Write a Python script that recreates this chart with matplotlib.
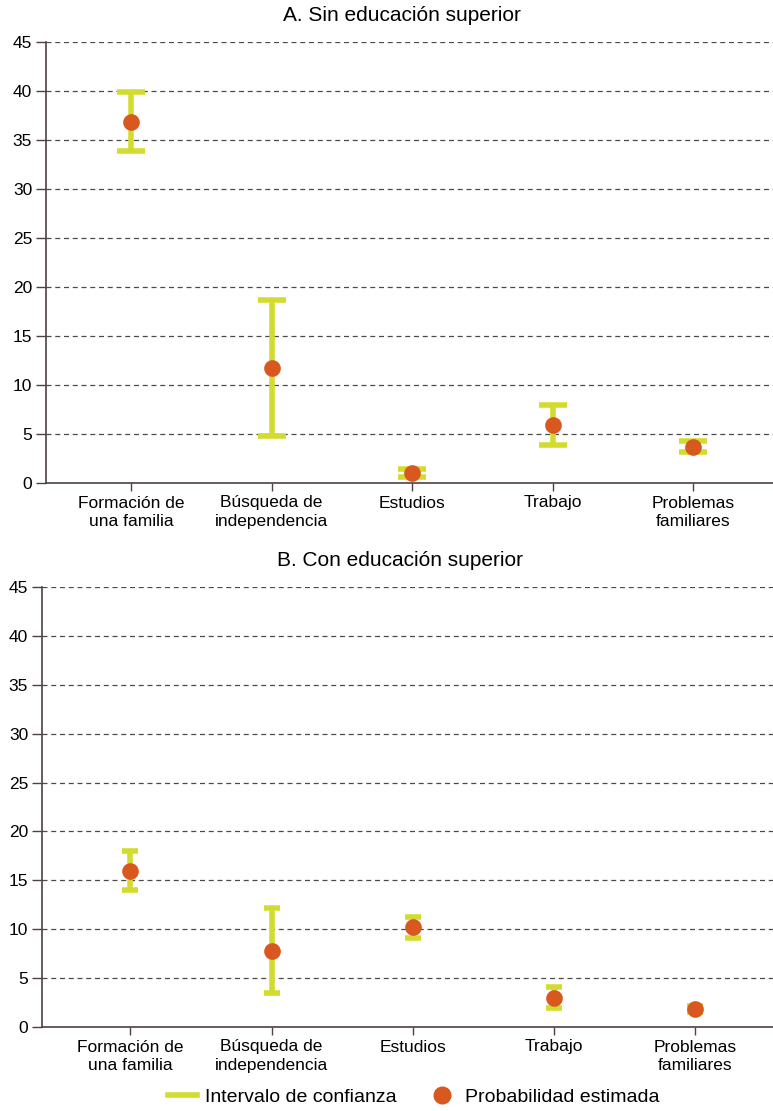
import matplotlib
matplotlib.use("Agg")
import matplotlib.pyplot as plt
from matplotlib.lines import Line2D

plt.rcParams['font.family'] = ['Liberation Sans', 'DejaVu Sans']

categories = ["Formación de\nuna familia", "Búsqueda de\nindependencia", "Estudios",
              "Trabajo", "Problemas\nfamiliares"]

# Panel A: Sin educación superior
a_est = [36.8, 11.7, 1.0, 5.9, 3.7]
a_low = [33.9, 4.8, 0.6, 3.9, 3.2]
a_high = [39.9, 18.7, 1.4, 8.0, 4.3]

# Panel B: Con educación superior
b_est = [16.0, 7.8, 10.2, 3.0, 1.8]
b_low = [14.0, 3.5, 9.1, 1.9, 1.5]
b_high = [18.0, 12.2, 11.2, 4.1, 2.1]

titles = ["A. Sin educación superior", "B. Con educación superior"]
yticks = [0, 5, 10, 15, 20, 25, 30, 35, 40, 45]

CI_COLOR = "#d3dc2e"
PT_COLOR = "#d9581f"
SPINE = "#4e4040"

fig = plt.figure(figsize=(7.73, 11.11), dpi=100)
ax_a = fig.add_axes([46/773, 1-483/1111, (773-46)/773, (483-42)/1111])
ax_b = fig.add_axes([42/773, 1-1027/1111, (773-42)/773, (1027-587)/1111])

panels = [(ax_a, a_est, a_low, a_high, 10, -0.605),
          (ax_b, b_est, b_low, b_high, 6, -0.625)]

for i, (ax, est, low, high, cap, xl) in enumerate(panels):
    x = list(range(len(categories)))
    yerr = [[e - l for e, l in zip(est, low)], [h - e for e, h in zip(est, high)]]
    ax.errorbar(x, est, yerr=yerr, fmt='none', ecolor=CI_COLOR, elinewidth=4,
                capsize=cap, capthick=4, zorder=3)
    ax.plot(x, est, 'o', color=PT_COLOR, markersize=12, markeredgewidth=0, zorder=4)
    ax.set_ylim(0, 45)
    ax.set_xlim(xl, xl + 727/140.5)
    ax.set_yticks(yticks)
    ax.set_xticks(x)
    ax.set_xticklabels(categories, fontsize=12.5, linespacing=1.3)
    ax.tick_params(axis='y', labelsize=12.5, length=7, color=SPINE, width=1, pad=3)
    ax.tick_params(axis='x', length=6, color=SPINE, width=1, pad=3)
    for y in yticks[1:]:
        ax.axhline(y, color="#4a4a4a", linestyle=(0, (4, 3)), linewidth=0.9, zorder=1)
    for s in ['top', 'right']:
        ax.spines[s].set_visible(False)
    for s in ['left', 'bottom']:
        ax.spines[s].set_color(SPINE)
        ax.spines[s].set_linewidth(1.2)
    ax.set_title(titles[i], fontsize=15, pad=15, x=0.49)

handles = [Line2D([0], [0], color=CI_COLOR, linewidth=4),
           Line2D([0], [0], marker='o', color=PT_COLOR, linestyle='none', markersize=12)]
fig.legend(handles, ["Intervalo de confianza", "Probabilidad estimada"],
           loc='center', bbox_to_anchor=(0.535, 1-1097/1111), ncol=2, frameon=False,
           fontsize=14, handlelength=1.5, handletextpad=0.4, columnspacing=1.6)

fig.savefig("out.png", dpi=100)
